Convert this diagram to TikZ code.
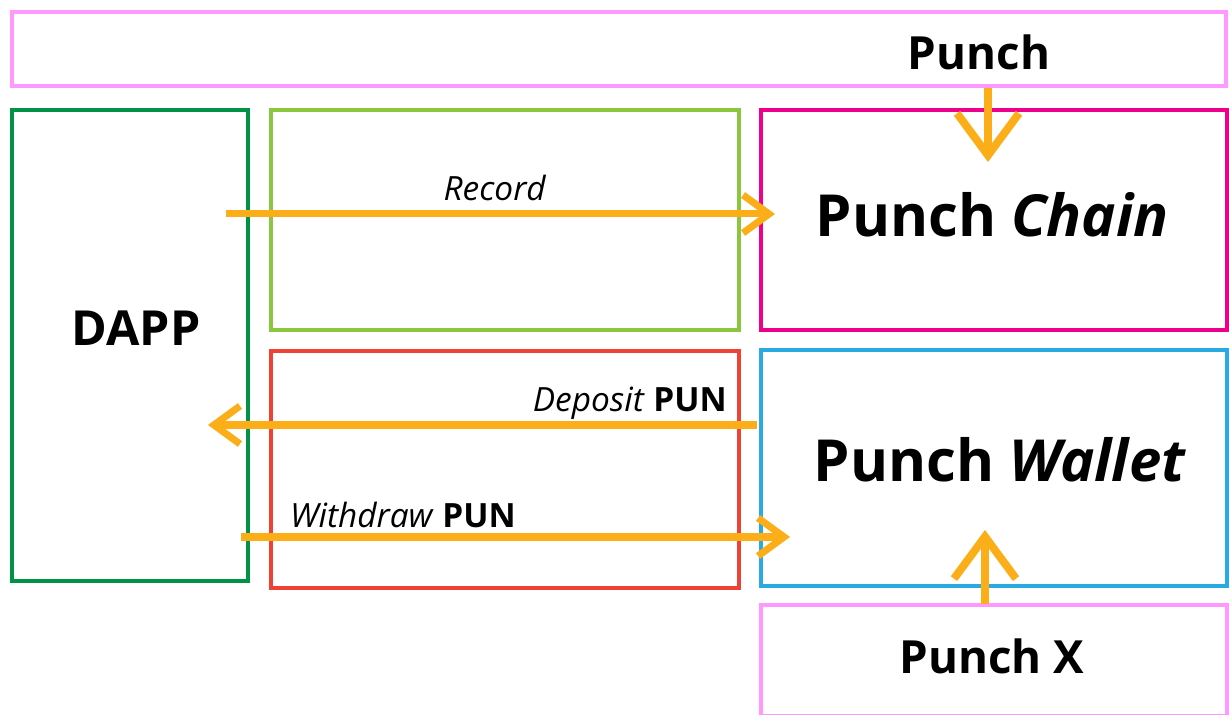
\documentclass[tikz,border=0pt]{standalone}
\usepackage{fontspec}
\setmainfont{Open Sans}
\usetikzlibrary{arrows.meta}
\definecolor{pinkline}{RGB}{255,153,255}
\definecolor{dappgreen}{RGB}{0,146,69}
\definecolor{recgreen}{RGB}{140,198,63}
\definecolor{chainpink}{RGB}{236,0,140}
\definecolor{punred}{RGB}{239,65,54}
\definecolor{walletblue}{RGB}{41,171,226}
\definecolor{flow}{RGB}{251,174,23}
\tikzset{
    box/.style ={
        rectangle,
        line width =2.8pt,
        inner sep=0pt
    },
    big/.style ={font=\fontsize{33}{36}\selectfont\bfseries, anchor=base},
    mid/.style ={font=\fontsize{26}{30}\selectfont\bfseries, anchor=base},
    lbl/.style ={font=\fontsize{19}{22}\selectfont, anchor=base},
    flowline/.style ={draw=flow, line width=4pt,
        -{Straight Barb[length=0.52cm,width=0.76cm]}},
    flowup/.style ={draw=flow, line width=4.5pt,
        -{Straight Barb[length=0.84cm,width=1.24cm]}}
}

\begin{document}
\begin{tikzpicture}
        \useasboundingbox (0,0) rectangle (24.58,14.3);
        % boxes
        \node[box, draw=pinkline, minimum width=24.28cm, minimum height=1.48cm] (PUNCH) at(12.38,13.32) {};
        \node[box, draw=dappgreen, minimum width=4.72cm, minimum height=9.42cm] (DAPP) at(2.6,7.39) {};
        \node[box, draw=recgreen, minimum width=9.36cm, minimum height=4.4cm] (RECBOX) at(10.1,9.9) {};
        \node[box, draw=chainpink, minimum width=9.32cm, minimum height=4.4cm] (CHAIN) at(19.88,9.9) {};
        \node[box, draw=punred, minimum width=9.36cm, minimum height=4.74cm] (PUNBOX) at(10.1,4.91) {};
        \node[box, draw=walletblue, minimum width=9.32cm, minimum height=4.72cm] (WALLET) at(19.88,4.94) {};
        \node[box, draw=pinkline, minimum width=9.32cm, minimum height=2.22cm] (PUNCHX) at(19.88,1.09) {};
        % texts
        \node[mid] (PUNCHT) at(19.58,12.9) {Punch};
        \node[mid, font=\fontsize{27.5}{30}\selectfont\bfseries] (DAPPT) at(2.72,7.38) {DAPP};
        \node[big] (CHAINT) at(19.84,9.56) {Punch \textit{Chain}};
        \node[big] (WALLETT) at(20.0,4.66) {Punch \textit{Wallet}};
        \node[mid] (PUNCHXT) at(19.84,0.82) {Punch X};
        \node[lbl] (RECT) at(9.9,10.28) {\textit{Record}};
        \node[lbl, anchor=base east] (DEPT) at(14.66,6.06) {\textit{Deposit} \textbf{PUN}};
        \node[lbl, anchor=base west] (WDT) at(5.68,3.74) {\textit{Withdraw} \textbf{PUN}};
        % arrow ends
        \coordinate (recA) at(4.52,10.02);
        \coordinate (recB) at(15.5,10.02);
        \coordinate (depA) at(15.14,5.8);
        \coordinate (depB) at(4.16,5.8);
        \coordinate (wdA) at(4.82,3.56);
        \coordinate (wdB) at(15.8,3.56);
        \coordinate (topA) at(19.76,12.54);
        \coordinate (topB) at(19.76,11.06);
        \coordinate (botA) at(19.7,2.22);
        \coordinate (botB) at(19.7,3.7);
        \draw[flowline] (recA)--(recB);
        \draw[flowline] (depA)--(depB);
        \draw[flowline] (wdA)--(wdB);
        \draw[flowup] (topA)--(topB);
        \draw[flowup] (botA)--(botB);
    \end{tikzpicture}
\end{document}
